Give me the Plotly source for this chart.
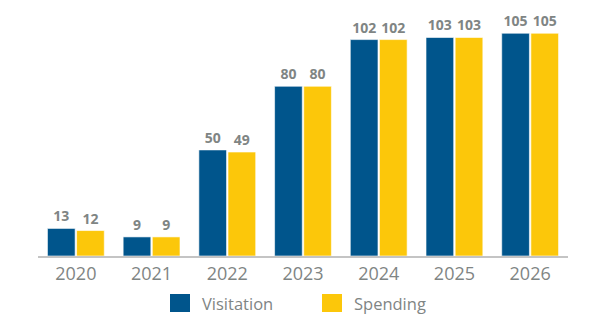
import plotly.graph_objects as go

years = ["2020", "2021", "2022", "2023", "2024", "2025", "2026"]
visitation = [13, 9, 50, 80, 102, 103, 105]
spending = [12, 9, 49, 80, 102, 103, 105]

BLUE = "#00558C"
YELLOW = "#FCC70A"
GRAY = "#7F8584"
FONT = "Open Sans"

fig = go.Figure()
for name, vals, color in [("Visitation", visitation, BLUE), ("Spending", spending, YELLOW)]:
    fig.add_trace(go.Bar(
        x=years, y=vals, name=name,
        marker=dict(color=color, line=dict(color="rgba(255,255,255,0.6)", width=1)),
        text=vals, texttemplate="<b>%{text}</b>", textposition="outside",
        textfont=dict(family=FONT, size=14, color=GRAY),
        cliponaxis=False, showlegend=False,
    ))

# Legend drawn as square swatches with labels below the axis
legend_items = [("Visitation", BLUE, 170), ("Spending", YELLOW, 322)]
for label, color, x0 in legend_items:
    fig.add_shape(type="rect", xref="paper", yref="paper",
                  x0=(x0 - 38) / 530, x1=(x0 + 20 - 38) / 530,
                  y0=-(312 - 256) / 244, y1=-(294 - 256) / 244,
                  fillcolor=color, line=dict(width=0))
    fig.add_annotation(text=label, xref="paper", yref="paper",
                       x=(x0 + 30 - 38) / 530, y=-(303 - 256) / 244,
                       xanchor="left", yanchor="middle", showarrow=False,
                       font=dict(family=FONT, size=16.5, color=GRAY))

fig.update_layout(
    width=600, height=325,
    margin=dict(l=38, r=32, t=12, b=69),
    paper_bgcolor="white", plot_bgcolor="white",
    barmode="group", bargap=0.23, bargroupgap=0.05,
    font=dict(family=FONT, color=GRAY),
    xaxis=dict(showline=True, linecolor="#C4C4C4", linewidth=2,
               tickfont=dict(family=FONT, size=18, color=GRAY),
               ticks="", showgrid=False),
    yaxis=dict(range=[0, 115], visible=False, showgrid=False),
)

fig.write_html("out.html")
